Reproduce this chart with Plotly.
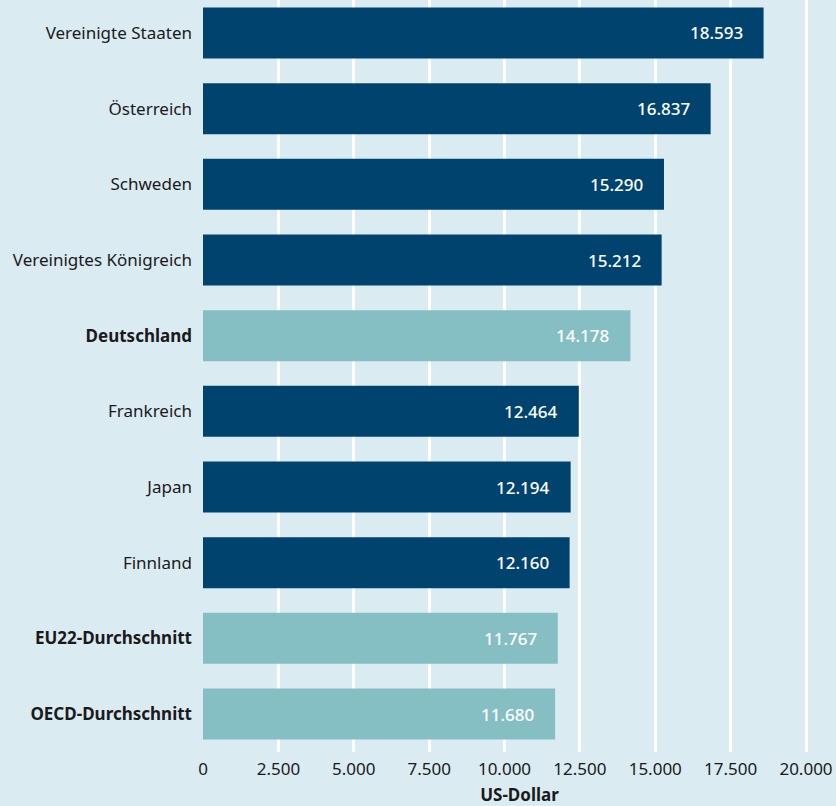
import plotly.graph_objects as go

countries = ["Vereinigte Staaten", "Österreich", "Schweden", "Vereinigtes Königreich",
             "Deutschland", "Frankreich", "Japan", "Finnland",
             "EU22-Durchschnitt", "OECD-Durchschnitt"]
values = [18593, 16837, 15290, 15212, 14178, 12464, 12194, 12160, 11767, 11680]
highlight = [False, False, False, False, True, False, False, False, True, True]
tick_values = [0, 2500, 5000, 7500, 10000, 12500, 15000, 17500, 20000]

DARK = "#00436f"
TEAL = "#85bec3"
BG = "#dbebf2"

colors = [TEAL if h else DARK for h in highlight]
ticktext = [f"<b>{c}</b>" if h else c for c, h in zip(countries, highlight)]

def fmt(v):
    return f"{v:,}".replace(",", ".")

fig = go.Figure(go.Bar(
    x=values, y=countries, orientation="h",
    marker=dict(color=colors, line=dict(width=0)),
    hoverinfo="skip",
))

annotations = [
    dict(x=v, y=c, xref="x", yref="y", text=fmt(v), showarrow=False,
         xanchor="right", xshift=-19, yshift=0,
         font=dict(family="Noto Sans", size=17, color="white", weight=500))
    for c, v in zip(countries, values)
]

fig.update_layout(
    width=836, height=806,
    margin=dict(l=203, r=0, t=0, b=54, autoexpand=False),
    paper_bgcolor=BG, plot_bgcolor=BG,
    separators=",.",
    bargap=0.326,
    showlegend=False,
    annotations=annotations,
    font=dict(family="Noto Sans", size=17, color="#1a1a1a"),
    xaxis=dict(
        range=[0, 20995],
        tickvals=tick_values,
        tickformat=",d",
        showgrid=True, gridcolor="white", gridwidth=2.5,
        zeroline=False, showline=False, automargin=False,
        ticks="", ticklabelstandoff=5,
        tickfont=dict(size=17, color="#1a1a1a"),
        title=dict(text="<b>US-Dollar</b>", font=dict(size=17, color="#1a1a1a"), standoff=13),
    ),
    yaxis=dict(
        categoryorder="array", categoryarray=countries,
        range=[9.502, -0.436],
        tickvals=countries, ticktext=ticktext,
        showgrid=False, zeroline=False, showline=False, automargin=False,
        ticks="", ticklabelstandoff=10,
        tickfont=dict(size=17, color="#1a1a1a"),
    ),
)

fig.write_html("out.html",
               config={"displayModeBar": False},
               post_script="document.body.style.margin='0';document.body.style.overflow='hidden';")
